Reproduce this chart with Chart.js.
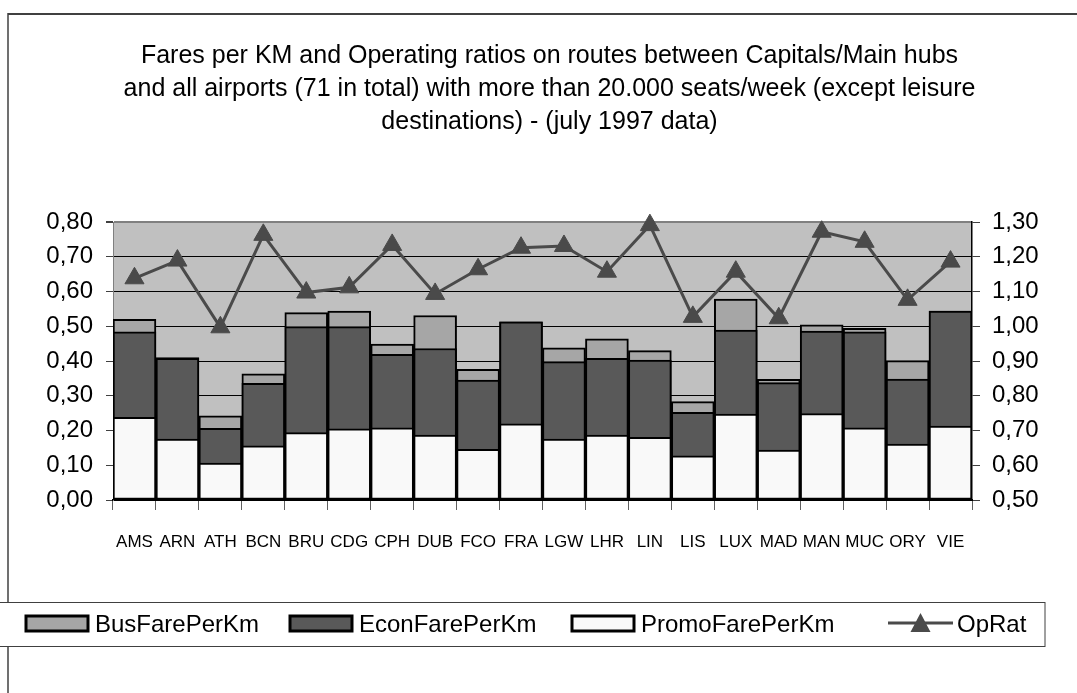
<!DOCTYPE html>
<html>
<head>
<meta charset="utf-8">
<script src="https://cdn.jsdelivr.net/npm/chart.js@4/dist/chart.umd.min.js"></script>
<style>
  html, body { margin: 0; padding: 0; background: #fff; }
  canvas { display: block; }
</style>
</head>
<body>
<canvas id="c" width="1077" height="693"></canvas>
<script>
const categories = ['AMS','ARN','ATH','BCN','BRU','CDG','CPH','DUB','FCO','FRA','LGW','LHR','LIN','LIS','LUX','MAD','MAN','MUC','ORY','VIE'];
const busFarePerKm   = [0.52, 0.41, 0.242, 0.363, 0.539, 0.544, 0.449, 0.531, 0.376, 0.513, 0.438, 0.464, 0.43, 0.283, 0.578, 0.347, 0.504, 0.494, 0.401, 0.544];
const econFarePerKm  = [0.484, 0.408, 0.206, 0.336, 0.499, 0.499, 0.419, 0.436, 0.345, 0.513, 0.398, 0.408, 0.403, 0.252, 0.489, 0.338, 0.486, 0.484, 0.348, 0.544];
const promoFarePerKm = [0.238, 0.175, 0.106, 0.156, 0.194, 0.205, 0.208, 0.187, 0.146, 0.219, 0.175, 0.187, 0.18, 0.127, 0.247, 0.144, 0.249, 0.208, 0.161, 0.213];
const opRat          = [1.138, 1.189, 0.997, 1.263, 1.097, 1.112, 1.234, 1.093, 1.164, 1.226, 1.231, 1.157, 1.291, 1.027, 1.157, 1.023, 1.272, 1.243, 1.076, 1.186];
const titleLines = [
  'Fares per KM and Operating ratios on routes between Capitals/Main hubs',
  'and all airports (71 in total) with more than 20.000 seats/week (except leisure',
  'destinations) - (july 1997 data)'
];
const leftTicks = { min: 0, max: 0.8, step: 0.1 };
const rightTicks = { min: 0.5, max: 1.3, step: 0.1 };

const FONT = '"Liberation Sans", Arial, Helvetica, sans-serif';
const fmt = v => Number(v).toFixed(2).replace('.', ',');

const framePlugin = {
  id: 'frame',
  beforeDraw(chart) {
    const { ctx, chartArea: a } = chart;
    ctx.save();
    ctx.fillStyle = '#ffffff';
    ctx.fillRect(0, 0, chart.width, chart.height);
    ctx.fillStyle = '#c0c0c0';
    ctx.fillRect(a.left, a.top, a.right - a.left, a.bottom - a.top);
    ctx.strokeStyle = '#404040';
    ctx.lineWidth = 2;
    ctx.beginPath();
    ctx.moveTo(8, 14);
    ctx.lineTo(chart.width, 14);
    ctx.stroke();
    ctx.lineWidth = 1.5;
    ctx.beginPath();
    ctx.moveTo(8, 13);
    ctx.lineTo(8, chart.height);
    ctx.stroke();
    ctx.restore();
  }
};

const legendPlugin = {
  id: 'customLegend',
  afterDraw(chart) {
    const { ctx } = chart;
    const ds = chart.data.datasets;
    ctx.save();
    ctx.fillStyle = '#ffffff';
    ctx.fillRect(0, 603, 1045, 43);
    ctx.strokeStyle = '#404040';
    ctx.lineWidth = 1;
    ctx.strokeRect(-1, 602.5, 1046, 44);
    const cy = 624;
    ctx.font = '24px ' + FONT;
    ctx.textBaseline = 'middle';
    ctx.textAlign = 'left';
    const boxes = [
      { i: 0, x: 26 },
      { i: 1, x: 290 },
      { i: 2, x: 572 }
    ];
    boxes.forEach(b => {
      const d = ds[b.i];
      ctx.fillStyle = d.backgroundColor;
      ctx.fillRect(b.x, cy - 8, 62, 15);
      ctx.strokeStyle = '#000';
      ctx.lineWidth = 3;
      ctx.strokeRect(b.x, cy - 8, 62, 15);
      ctx.fillStyle = '#000';
      ctx.fillText(d.label, b.x + 69, cy + 1);
    });
    const l = ds[3];
    ctx.strokeStyle = l.borderColor;
    ctx.lineWidth = 3;
    ctx.beginPath();
    ctx.moveTo(888, cy - 1);
    ctx.lineTo(953, cy - 1);
    ctx.stroke();
    ctx.fillStyle = l.borderColor;
    ctx.beginPath();
    ctx.moveTo(920.5, cy - 11);
    ctx.lineTo(930.5, cy + 8);
    ctx.lineTo(910.5, cy + 8);
    ctx.closePath();
    ctx.fill();
    ctx.fillStyle = '#000';
    ctx.fillText(l.label, 957, cy + 1);
    ctx.restore();
  }
};

const barCommon = {
  type: 'bar',
  yAxisID: 'y',
  grouped: false,
  categoryPercentage: 1,
  barPercentage: 1,
  borderColor: '#000000',
  borderWidth: 2,
  borderSkipped: false
};

new Chart(document.getElementById('c'), {
  data: {
    labels: categories,
    datasets: [
      Object.assign({}, barCommon, { label: 'BusFarePerKm', data: busFarePerKm, backgroundColor: '#a6a6a6', order: 3 }),
      Object.assign({}, barCommon, { label: 'EconFarePerKm', data: econFarePerKm, backgroundColor: '#595959', order: 2 }),
      Object.assign({}, barCommon, { label: 'PromoFarePerKm', data: promoFarePerKm, backgroundColor: '#f9f9f9', order: 1 }),
      {
        type: 'line', label: 'OpRat', data: opRat, yAxisID: 'y1', order: 0, clip: false,
        borderColor: '#4a4a4a', backgroundColor: '#4a4a4a', borderWidth: 3, tension: 0,
        pointStyle: 'triangle', pointRadius: 11, pointBorderWidth: 1,
        pointBackgroundColor: '#4a4a4a', pointBorderColor: '#4a4a4a', fill: false
      }
    ]
  },
  options: {
    responsive: false,
    animation: false,
    events: [],
    layout: { padding: { left: 22, right: 0, top: 0, bottom: 0 } },
    plugins: {
      legend: { display: false },
      tooltip: { enabled: false },
      title: {
        display: true,
        text: titleLines,
        color: '#000',
        font: { family: FONT, size: 25, weight: 'normal', lineHeight: 1.32 },
        padding: { top: 40, bottom: 83 }
      }
    },
    scales: {
      x: {
        offset: true,
        grid: { drawOnChartArea: false, offset: true, tickLength: 10, color: '#606060', lineWidth: 1 },
        border: { color: '#000', width: 2 },
        ticks: { color: '#000', font: { family: FONT, size: 17 }, padding: 22, maxRotation: 0, autoSkip: false },
        afterFit(s) { s.height = 193; }
      },
      y: {
        position: 'left',
        min: leftTicks.min, max: leftTicks.max,
        ticks: { stepSize: leftTicks.step, color: '#000', font: { family: FONT, size: 24 }, padding: 13, callback: fmt },
        grid: {
          color: c => (c.tick && Math.abs(c.tick.value - leftTicks.max) < 1e-6) ? '#808080' : '#000000',
          lineWidth: c => (c.tick && Math.abs(c.tick.value - leftTicks.max) < 1e-6) ? 2 : 1,
          tickColor: '#404040', tickLength: 7
        },
        border: { color: '#808080', width: 1 },
        afterFit(s) { s.width = 91; }
      },
      y1: {
        position: 'right',
        min: rightTicks.min, max: rightTicks.max,
        ticks: { stepSize: rightTicks.step, color: '#000', font: { family: FONT, size: 24 }, padding: 12, callback: fmt },
        grid: { drawOnChartArea: false, tickColor: '#404040', tickLength: 8 },
        border: { color: '#000', width: 1.5 },
        afterFit(s) { s.width = 105; }
      }
    }
  },
  plugins: [framePlugin, legendPlugin]
});
</script>
</body>
</html>
